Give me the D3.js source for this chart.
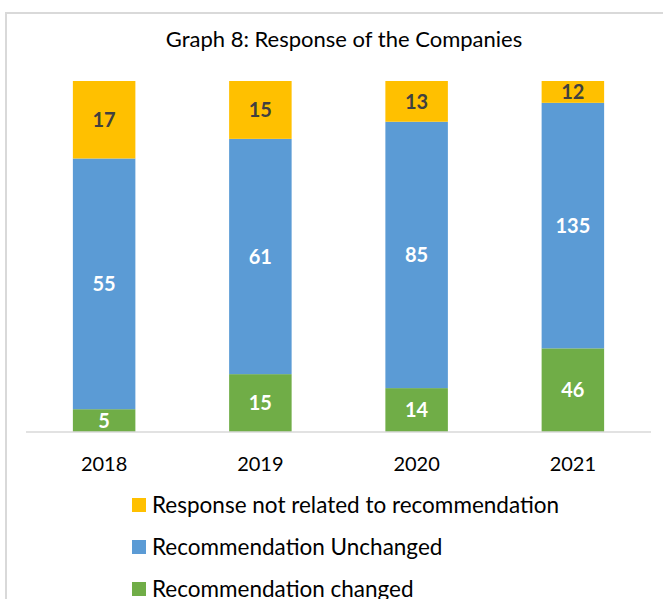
<!DOCTYPE html>
<html>
<head>
<meta charset="utf-8">
<script src="https://cdn.jsdelivr.net/npm/d3@7"></script>
<style>
  html, body { margin: 0; padding: 0; background: #fff; }
  svg { display: block; font-family: Lato, "Noto Sans", sans-serif; }
</style>
</head>
<body>
<div id="chart"></div>
<script>
// values
const years = ['2018', '2019', '2020', '2021'];
const changed = [5, 15, 14, 46];
const unchanged = [55, 61, 85, 135];
const notRelated = [17, 15, 13, 12];

const seriesNames = ['Recommendation changed', 'Recommendation Unchanged', 'Response not related to recommendation'];
const seriesColors = ['#70AD47', '#5B9BD5', '#FFC000'];
const labelColors = ['#ffffff', '#ffffff', '#404040'];

const width = 663, height = 599;
const margin = { top: 81, bottom: 167, left: 26, right: 12 };

const svg = d3.select('#chart').append('svg')
  .attr('width', width)
  .attr('height', height);

// chart area border (continues past the right and bottom edges)
svg.append('rect')
  .attr('x', 6).attr('y', 13)
  .attr('width', 720).attr('height', 700)
  .attr('fill', 'none')
  .attr('stroke', '#d9d9d9')
  .attr('stroke-width', 2);

svg.append('text')
  .attr('x', 344).attr('y', 47)
  .attr('text-anchor', 'middle')
  .attr('font-size', 22)
  .attr('fill', '#000')
  .text('Graph 8: Response of the Companies');

// build rows for the stack, as shares of the yearly total
const rows = years.map((y, i) => {
  const total = changed[i] + unchanged[i] + notRelated[i];
  return { year: y, s0: changed[i] / total, s1: unchanged[i] / total, s2: notRelated[i] / total,
           raw: [changed[i], unchanged[i], notRelated[i]] };
});
const stack = d3.stack().keys(['s0', 's1', 's2'])(rows);

const x = d3.scaleBand().domain(years)
  .range([margin.left, width - margin.right])
  .paddingInner(0.6).paddingOuter(0.3);
const y = d3.scaleLinear().domain([0, 1]).range([height - margin.bottom, margin.top]);

const layers = svg.append('g').selectAll('g')
  .data(stack)
  .join('g')
  .attr('fill', (d, i) => seriesColors[i]);

layers.selectAll('rect')
  .data(d => d)
  .join('rect')
  .attr('x', d => x(d.data.year))
  .attr('y', d => y(d[1]))
  .attr('width', x.bandwidth())
  .attr('height', d => y(d[0]) - y(d[1]));

layers.each(function(layer, li) {
  d3.select(this).selectAll('text')
    .data(layer)
    .join('text')
    .attr('x', d => x(d.data.year) + x.bandwidth() / 2)
    .attr('y', d => (y(d[0]) + y(d[1])) / 2)
    .attr('dy', '0.36em')
    .attr('text-anchor', 'middle')
    .attr('font-size', 20)
    .attr('font-weight', 'bold')
    .attr('fill', labelColors[li])
    .text(d => d.data.raw[li]);
});

// x axis
const xAxis = svg.append('g')
  .attr('transform', `translate(0,${height - margin.bottom})`)
  .call(d3.axisBottom(x).tickSize(0).tickPadding(25));
xAxis.select('.domain').attr('stroke', '#d9d9d9').attr('stroke-width', 1.5)
  .attr('d', `M${margin.left},0H${width - margin.right}`);
xAxis.selectAll('text')
  .attr('font-family', 'Lato, "Noto Sans", sans-serif')
  .attr('font-size', 20)
  .attr('fill', '#000');

// legend, top entry first
const legendOrder = [2, 1, 0];
const legend = svg.append('g').selectAll('g')
  .data(legendOrder)
  .join('g')
  .attr('transform', (d, i) => `translate(132,${498 + i * 42})`);
legend.append('rect')
  .attr('width', 14).attr('height', 14)
  .attr('fill', d => seriesColors[d]);
legend.append('text')
  .attr('x', 20).attr('y', 7)
  .attr('dy', '0.36em')
  .attr('font-size', 22.5)
  .attr('fill', '#000')
  .text(d => seriesNames[d]);
</script>
</body>
</html>
